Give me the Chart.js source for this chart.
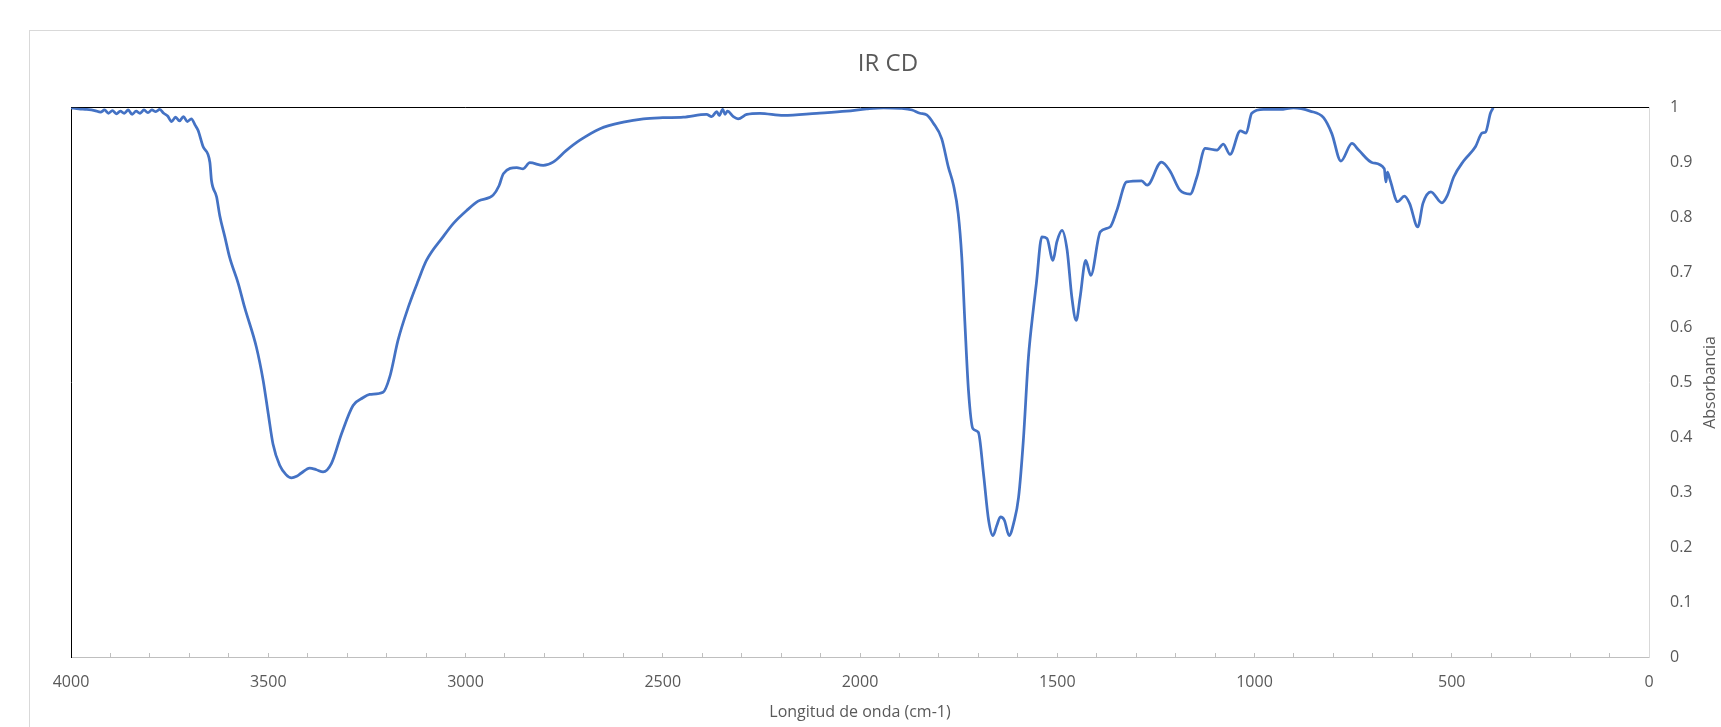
<!DOCTYPE html>
<html>
<head>
<meta charset="utf-8">
<title>IR CD</title>
<script src="https://cdn.jsdelivr.net/npm/chart.js@4.4.1/dist/chart.umd.min.js"></script>
<style>
  html, body { margin: 0; padding: 0; background: #fff; overflow: hidden; width: 1721px; height: 727px; }
  #frame { position: absolute; left: 29px; top: 30px; width: 1716px; height: 696px; border: 1px solid #d9d9d9; }
  #frame canvas { display: block; }
</style>
</head>
<body>
<div id="frame"><canvas id="irChart" width="1716" height="696"></canvas></div>
<script>
// spectrum (cm-1, descending)
const wavenumber = [
  4000, 3980, 3960, 3940, 3925, 3915, 3905, 3895, 3885, 3875, 3865, 3855, 3845, 3835, 3825, 3815,
  3805, 3795, 3785, 3775, 3765, 3755, 3745, 3735, 3725, 3715, 3705, 3695, 3685, 3678, 3665, 3648,
  3644, 3631, 3623, 3610, 3598, 3576, 3560, 3530, 3513, 3500, 3488, 3471, 3455, 3441, 3428, 3416,
  3395, 3378, 3361, 3340, 3314, 3285, 3260, 3243, 3209, 3192, 3171, 3145, 3120, 3099, 3057, 3030,
  2997, 2968, 2930, 2915, 2904, 2870, 2854, 2837, 2803, 2778, 2745, 2710, 2659, 2600, 2549, 2500,
  2448, 2389, 2376, 2363, 2357, 2348, 2342, 2336, 2321, 2309, 2287, 2254, 2194, 2110, 2034, 1983,
  1940, 1898, 1868, 1848, 1831, 1814, 1793, 1776, 1763, 1751, 1742, 1734, 1725, 1714, 1700, 1687,
  1674, 1663, 1653, 1644, 1634, 1622, 1610, 1598, 1586, 1573, 1560, 1553, 1539, 1526, 1511, 1501,
  1488, 1475, 1463, 1452, 1442, 1428, 1415, 1391, 1366, 1349, 1324, 1286, 1272, 1236, 1215, 1189,
  1163, 1146, 1125, 1095, 1079, 1062, 1036, 1021, 1007, 977, 935, 901, 859, 825, 804, 781,
  753, 736, 701, 671, 667, 663, 656, 637, 620, 607, 586, 573, 553, 525, 512, 495,
  470, 440, 423, 414, 402, 395
];
const absorbance = [
  1.000, 0.998, 0.997, 0.995, 0.992, 0.996, 0.990, 0.995, 0.989, 0.994, 0.990, 0.996, 0.988, 0.994, 0.990, 0.996,
  0.991, 0.996, 0.993, 0.997, 0.990, 0.985, 0.975, 0.983, 0.976, 0.984, 0.975, 0.980, 0.968, 0.959, 0.929, 0.901,
  0.868, 0.838, 0.804, 0.765, 0.728, 0.680, 0.637, 0.564, 0.504, 0.443, 0.388, 0.349, 0.332, 0.326, 0.329, 0.335,
  0.344, 0.341, 0.337, 0.352, 0.407, 0.458, 0.472, 0.478, 0.482, 0.510, 0.577, 0.637, 0.685, 0.722, 0.765, 0.790,
  0.813, 0.830, 0.841, 0.858, 0.880, 0.891, 0.889, 0.900, 0.895, 0.901, 0.922, 0.941, 0.962, 0.974, 0.980, 0.982,
  0.983, 0.988, 0.984, 0.993, 0.986, 0.997, 0.988, 0.994, 0.984, 0.980, 0.988, 0.990, 0.986, 0.990, 0.994, 0.998,
  1.000, 0.999, 0.996, 0.990, 0.987, 0.972, 0.944, 0.892, 0.859, 0.807, 0.728, 0.607, 0.485, 0.416, 0.409, 0.334,
  0.249, 0.221, 0.240, 0.255, 0.249, 0.221, 0.245, 0.291, 0.394, 0.546, 0.637, 0.680, 0.765, 0.762, 0.722, 0.756,
  0.777, 0.741, 0.655, 0.613, 0.655, 0.722, 0.695, 0.774, 0.783, 0.813, 0.865, 0.867, 0.859, 0.901, 0.886, 0.850,
  0.843, 0.874, 0.926, 0.923, 0.934, 0.915, 0.958, 0.954, 0.990, 0.997, 0.997, 1.000, 0.994, 0.982, 0.953, 0.903,
  0.935, 0.923, 0.900, 0.889, 0.865, 0.883, 0.868, 0.829, 0.839, 0.826, 0.783, 0.826, 0.847, 0.827, 0.839, 0.874,
  0.903, 0.929, 0.954, 0.956, 0.990, 1.000
];
const xMajorTicks = [4000, 3500, 3000, 2500, 2000, 1500, 1000, 500, 0];
const yTicks = [0, 0.1, 0.2, 0.3, 0.4, 0.5, 0.6, 0.7, 0.8, 0.9, 1];

const textGray = '#595959';
const fontFamily = "'Open Sans', sans-serif";
const axisFont = { family: fontFamily, size: 16 };

// Excel puts the value axis title on the right but reading bottom-to-top
const yTitlePlugin = {
  id: 'yTitleRight',
  afterDraw(chart) {
    const { ctx, chartArea } = chart;
    ctx.save();
    ctx.translate(chartArea.right + 61, (chartArea.top + chartArea.bottom) / 2);
    ctx.rotate(-Math.PI / 2);
    ctx.font = '16px ' + fontFamily;
    ctx.fillStyle = textGray;
    ctx.textAlign = 'center';
    ctx.textBaseline = 'middle';
    ctx.fillText('Absorbancia', 0, 0);
    ctx.restore();
  }
};

Chart.defaults.color = textGray;
Chart.defaults.font.family = fontFamily;

const ctx = document.getElementById('irChart').getContext('2d');
new Chart(ctx, {
  type: 'line',
  data: {
    datasets: [{
      label: 'IR CD',
      data: wavenumber.map((w, i) => ({ x: w, y: absorbance[i] })),
      borderColor: '#4472C4',
      borderWidth: 2.75,
      pointRadius: 0,
      fill: false,
      cubicInterpolationMode: 'monotone',
      xAxisID: 'x',
      yAxisID: 'y'
    }]
  },
  options: {
    responsive: false,
    animation: false,
    layout: { padding: 0 },
    plugins: {
      legend: { display: false },
      tooltip: { enabled: false },
      title: {
        display: true,
        text: 'IR CD',
        color: textGray,
        font: { family: fontFamily, size: 24, weight: 'normal' },
        padding: { top: 19, bottom: 29 }
      }
    },
    scales: {
      x: {
        type: 'linear',
        position: 'bottom',
        reverse: true,
        min: 0,
        max: 4000,
        afterFit: s => { s.height = 70; },
        border: { color: '#bfbfbf', width: 1 },
        grid: { drawOnChartArea: false, drawTicks: true, tickLength: -4, color: '#bfbfbf' },
        ticks: {
          stepSize: 100,
          autoSkip: false,
          maxRotation: 0,
          padding: 20,
          font: axisFont,
          callback: v => xMajorTicks.includes(v) ? String(v) : ''
        },
        title: {
          display: true,
          text: 'Longitud de onda (cm-1)',
          font: axisFont,
          padding: { top: 0, bottom: 5 }
        }
      },
      xTop: {
        type: 'linear',
        position: 'top',
        reverse: true,
        min: 0,
        max: 4000,
        afterFit: s => { s.height = 0; },
        border: { color: '#000', width: 1 },
        grid: { drawOnChartArea: false, drawTicks: false },
        ticks: { display: false }
      },
      y: {
        type: 'linear',
        position: 'right',
        min: 0,
        max: 1,
        afterBuildTicks: s => { s.ticks = yTicks.map(v => ({ value: v })); },
        afterFit: s => { s.width = 97; },
        border: { color: '#d9d9d9', width: 1 },
        grid: { drawOnChartArea: false, drawTicks: false },
        ticks: {
          padding: 21,
          font: axisFont,
          callback: v => String(Math.round(v * 10) / 10)
        }
      },
      yLeft: {
        type: 'linear',
        position: 'left',
        min: 0,
        max: 1,
        afterFit: s => { s.width = 41; },
        border: { color: '#000', width: 1 },
        grid: { drawOnChartArea: false, drawTicks: false },
        ticks: { display: false }
      }
    }
  },
  plugins: [yTitlePlugin]
});
</script>
</body>
</html>
